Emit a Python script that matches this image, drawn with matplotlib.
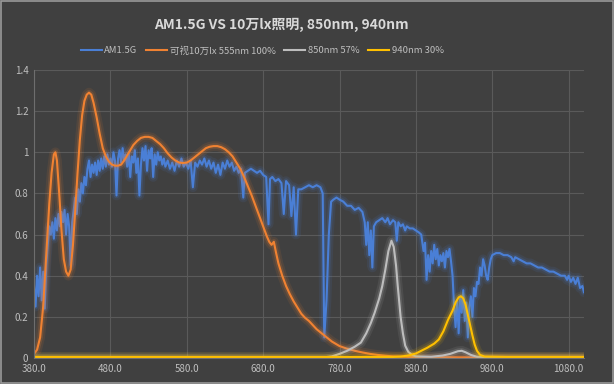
import matplotlib
matplotlib.use("Agg")

import matplotlib.pyplot as plt
from matplotlib.patches import Rectangle

plt.rcParams['font.family'] = ['Noto Sans CJK SC', 'DejaVu Sans']

# AM1.5G (normalised)
am_wl = [380, 382, 384, 386, 388, 390, 392, 394, 396, 398, 400, 402, 404, 406, 408, 410,
         412, 414, 416, 418, 420, 422, 424, 426, 428, 430, 432, 434, 436, 438, 440, 442,
         444, 446, 448, 450, 452, 454, 456, 458, 460, 462, 464, 466, 468, 470, 472, 474,
         476, 478, 480, 482, 484, 486, 488, 490, 492, 494, 496, 498, 500, 502, 504, 506,
         508, 510, 512, 514, 516, 518, 520, 522, 524, 526, 528, 530, 532, 534, 536, 538,
         540, 542, 544, 546, 548, 550, 552, 555, 558, 561, 564, 567, 570, 573, 576, 579,
         582, 585, 588, 591, 594, 597, 600, 603, 606, 609, 612, 615, 618, 621, 624, 627,
         630, 633, 636, 639, 642, 645, 648, 651, 654, 656, 660, 664, 668, 672, 676, 680,
         684, 687, 689, 692, 696, 700, 704, 707, 710, 714, 717, 720, 723, 726, 730, 735,
         740, 745, 750, 755, 758, 760, 763, 766, 769, 772, 776, 780, 785, 790, 795, 800,
         805, 810, 813, 815, 817, 819, 821, 823, 825, 828, 832, 836, 840, 843, 846, 850,
         853, 855, 857, 860, 863, 866, 868, 872, 876, 880, 884, 887, 890, 892, 894, 896,
         898, 900, 902, 904, 906, 908, 910, 912, 914, 916, 918, 920, 922, 924, 926, 928,
         930, 932, 934, 936, 938, 940, 942, 944, 946, 948, 950, 952, 954, 956, 958, 960,
         962, 964, 966, 968, 970, 972, 974, 976, 978, 980, 985, 990, 995, 1000, 1005, 1008,
         1010, 1015, 1020, 1025, 1030, 1035, 1040, 1045, 1050, 1055, 1060, 1065, 1070, 1075,
         1078, 1080, 1083, 1086, 1089, 1092, 1095, 1098, 1100]
am_val = [0.35, 0.25, 0.40, 0.30, 0.44, 0.28, 0.42, 0.24, 0.45, 0.55, 0.64, 0.60, 0.66, 0.58, 0.68, 0.62,
          0.70, 0.64, 0.71, 0.66, 0.72, 0.60, 0.70, 0.64, 0.45, 0.66, 0.72, 0.78, 0.70, 0.82, 0.76, 0.85,
          0.80, 0.88, 0.84, 0.92, 0.96, 0.88, 0.94, 0.90, 0.95, 0.89, 0.96, 0.91, 0.97, 0.92, 0.98, 0.93,
          0.99, 0.94, 0.97, 0.93, 1.00, 0.96, 0.79, 0.97, 1.01, 0.95, 1.02, 0.96, 0.99, 0.93, 1.00, 0.88,
          0.98, 0.95, 1.01, 0.90, 0.97, 0.79, 0.94, 1.02, 0.96, 1.03, 0.91, 1.01, 0.97, 1.02, 0.88, 0.99,
          0.94, 1.00, 0.96, 0.98, 0.94, 0.97, 0.93, 0.96, 0.92, 0.95, 0.91, 0.96, 0.93, 0.97, 0.93, 0.95,
          0.92, 0.96, 0.83, 0.95, 0.93, 0.96, 0.94, 0.97, 0.93, 0.96, 0.92, 0.95, 0.90, 0.94, 0.89, 0.95,
          0.92, 0.96, 0.93, 0.95, 0.91, 0.93, 0.90, 0.92, 0.78, 0.90, 0.91, 0.92, 0.91, 0.90, 0.91, 0.89,
          0.88, 0.65, 0.87, 0.88, 0.86, 0.87, 0.85, 0.70, 0.86, 0.84, 0.69, 0.83, 0.60, 0.82, 0.82, 0.83,
          0.84, 0.83, 0.84, 0.83, 0.80, 0.10, 0.28, 0.60, 0.76, 0.77, 0.78, 0.77, 0.76, 0.74, 0.74, 0.72,
          0.73, 0.71, 0.66, 0.55, 0.66, 0.50, 0.62, 0.44, 0.64, 0.66, 0.67, 0.68, 0.66, 0.68, 0.65, 0.67,
          0.66, 0.57, 0.66, 0.64, 0.65, 0.62, 0.64, 0.63, 0.63, 0.62, 0.61, 0.60, 0.52, 0.56, 0.38, 0.50,
          0.42, 0.52, 0.46, 0.55, 0.48, 0.53, 0.45, 0.50, 0.47, 0.51, 0.44, 0.52, 0.49, 0.53, 0.47, 0.40,
          0.25, 0.15, 0.28, 0.12, 0.30, 0.22, 0.33, 0.18, 0.27, 0.10, 0.25, 0.30, 0.20, 0.34, 0.30, 0.37,
          0.36, 0.44, 0.40, 0.48, 0.45, 0.40, 0.38, 0.44, 0.48, 0.50, 0.51, 0.51, 0.50, 0.50, 0.49, 0.47,
          0.49, 0.48, 0.47, 0.46, 0.46, 0.45, 0.44, 0.44, 0.43, 0.42, 0.42, 0.41, 0.40, 0.40,
          0.38, 0.40, 0.37, 0.39, 0.36, 0.39, 0.34, 0.35, 0.32]

# visible light 100k lx, normalised at 555nm
vis_wl = [380, 384, 388, 392, 396, 400, 403, 406, 408, 410, 413, 416, 419, 422, 425, 428,
          431, 434, 437, 440, 443, 446, 449, 452, 455, 458, 462, 466, 470, 474, 478, 482,
          486, 490, 494, 498, 502, 506, 510, 515, 520, 525, 530, 535, 540, 545, 550, 555,
          560, 565, 570, 575, 580, 585, 590, 595, 600, 605, 610, 615, 620, 625, 630, 635,
          640, 645, 650, 655, 660, 665, 670, 675, 680, 685, 688, 691, 694, 697, 700, 705,
          710, 715, 720, 725, 730, 735, 740, 745, 750, 755, 760, 770, 780, 790, 800, 810,
          820, 830, 840, 850, 870, 900, 950, 1000, 1050, 1100]
vis_val = [0.02, 0.04, 0.10, 0.25, 0.50, 0.75, 0.90, 0.99, 1.00, 0.96, 0.80, 0.62, 0.48, 0.42, 0.40, 0.43,
           0.55, 0.72, 0.90, 1.06, 1.18, 1.25, 1.28, 1.29, 1.28, 1.24, 1.17, 1.09, 1.02, 0.98, 0.955, 0.94,
           0.935, 0.935, 0.94, 0.96, 0.985, 1.01, 1.035, 1.055, 1.07, 1.075, 1.075, 1.07, 1.055, 1.04, 1.02, 0.995,
           0.975, 0.96, 0.95, 0.948, 0.95, 0.96, 0.975, 0.99, 1.005, 1.02, 1.027, 1.03, 1.03, 1.025, 1.015, 1.0,
           0.98, 0.95, 0.92, 0.88, 0.835, 0.79, 0.74, 0.69, 0.64, 0.59, 0.565, 0.55, 0.565, 0.51, 0.46, 0.40,
           0.35, 0.31, 0.275, 0.245, 0.215, 0.195, 0.18, 0.16, 0.14, 0.125, 0.11, 0.08, 0.058, 0.045, 0.035, 0.027,
           0.02, 0.015, 0.011, 0.008, 0.005, 0.004, 0.003, 0.003, 0.003, 0.003]

# 850nm LED 57%
ir850_wl = [380, 760, 770, 780, 790, 800, 808, 815, 821, 826, 832, 836, 840, 844, 848, 851,
            854, 856, 858, 860, 863, 866, 870, 875, 880, 900, 915, 925, 935, 940, 945, 952,
            960, 980, 1100]
ir850_val = [0.003, 0.003, 0.008, 0.02, 0.035, 0.055, 0.075, 0.12, 0.17, 0.22, 0.29, 0.35, 0.43, 0.52, 0.57, 0.54,
             0.45, 0.36, 0.28, 0.20, 0.12, 0.06, 0.03, 0.015, 0.008, 0.006, 0.012, 0.02, 0.033, 0.035, 0.028, 0.015,
             0.006, 0.003, 0.003]

# 940nm LED 30%
ir940_wl = [380, 850, 860, 870, 880, 887, 895, 904, 910, 916, 922, 928, 932, 936, 939, 942,
            945, 948, 951, 954, 957, 960, 964, 970, 1000, 1100]
ir940_val = [0.005, 0.005, 0.007, 0.012, 0.022, 0.035, 0.05, 0.07, 0.09, 0.13, 0.185, 0.23, 0.27, 0.295, 0.30, 0.29,
             0.26, 0.21, 0.16, 0.11, 0.065, 0.035, 0.015, 0.007, 0.005, 0.005]

labels = ['AM1.5G', '可视10万lx 555nm 100%', '850nm 57%', '940nm 30%']
colors = ['#4a7fd6', '#f08232', '#bdbdbd', '#ffc000']
series = [(am_wl, am_val), (vis_wl, vis_val), (ir850_wl, ir850_val), (ir940_wl, ir940_val)]

bg = '#404040'
fig = plt.figure(figsize=(6.14, 3.84), dpi=100, facecolor=bg)
fig.patches.append(Rectangle((0.001, 0.002), 0.997, 0.995, transform=fig.transFigure,
                             fill=False, edgecolor='#9a9a9a', linewidth=1.2))
ax = fig.add_axes([0.0554, 0.0677, 0.8956, 0.75])
ax.set_facecolor(bg)

handles = []
for (wl, val), c, lab in zip(series, colors, labels):
    # soft glow under each line
    ax.plot(wl, val, color=c, lw=7, alpha=0.10, solid_capstyle='round')
    ax.plot(wl, val, color=c, lw=4, alpha=0.18, solid_capstyle='round')
    h, = ax.plot(wl, val, color=c, lw=1.5, label=lab)
    handles.append(h)

ax.set_xlim(380, 1100)
ax.set_ylim(0, 1.4)
ax.set_xticks(range(380, 1081, 100))
ax.set_xticklabels(['%.1f' % t for t in range(380, 1081, 100)])
ax.set_yticks([0, 0.2, 0.4, 0.6, 0.8, 1.0, 1.2, 1.4])
ax.set_yticklabels(['0', '0.2', '0.4', '0.6', '0.8', '1', '1.2', '1.4'])
ax.grid(True, color='#5a5a5a', lw=0.8)
ax.set_axisbelow(True)
ax.tick_params(colors='#bfbfbf', labelsize=7, length=0, pad=4)
for s in ['top', 'right']:
    ax.spines[s].set_visible(False)
for s in ['left', 'bottom']:
    ax.spines[s].set_color('#6e6e6e')

fig.text(0.459, 0.935, 'AM1.5G VS 10万lx照明, 850nm, 940nm', ha='center', va='center',
         fontsize=10, fontweight='bold', color='#d9d9d9')
leg = fig.legend(handles=handles, loc='center', bbox_to_anchor=(0.427, 0.868), ncol=4,
                 frameon=False, fontsize=6.8, handlelength=2.2, handletextpad=0.3,
                 columnspacing=0.9, labelcolor='#bfbfbf')

fig.savefig('out.png', dpi=100, facecolor=bg)
